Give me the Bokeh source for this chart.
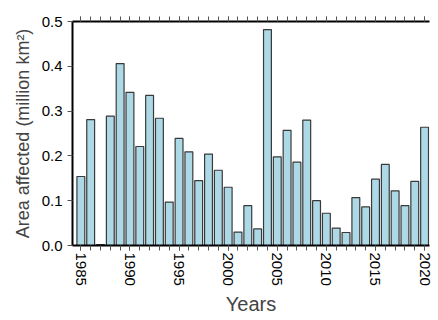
from bokeh.plotting import figure
from bokeh.models import FixedTicker, LinearAxis, Range1d, Label, ColumnDataSource, CustomJSTickFormatter
from bokeh.embed import file_html
from bokeh.resources import INLINE

years = list(range(1985, 2021))
area = [0.154, 0.281, 0.002, 0.289, 0.406, 0.342, 0.221, 0.335, 0.284, 0.097,
        0.239, 0.209, 0.145, 0.204, 0.168, 0.130, 0.030, 0.089, 0.037, 0.482,
        0.198, 0.257, 0.186, 0.280, 0.100, 0.072, 0.039, 0.029, 0.107, 0.086,
        0.148, 0.181, 0.122, 0.089, 0.143, 0.264]
x_ticks = [1985, 1990, 1995, 2000, 2005, 2010, 2015, 2020]
y_ticks = [0.0, 0.1, 0.2, 0.3, 0.4, 0.5]
title_text = "(b)"
x_label = "Years"
y_label = "Area affected (million km\u00b2)"

FONT = "Liberation Sans"

p = figure(width=437, height=318, output_backend="svg", toolbar_location=None,
           x_range=Range1d(1984.15, 2020.5), y_range=Range1d(0, 0.5),
           min_border_left=72, min_border_top=21, min_border_bottom=73, min_border_right=8)
p.outline_line_color = None
p.grid.visible = False
p.background_fill_color = "white"

src = ColumnDataSource(dict(x=years, top=area))
p.vbar(x="x", top="top", width=0.8, bottom=0, source=src,
       fill_color="#ADD8E6", line_color="#3a3a3a", line_width=1.2)

minor = list(range(1984, 2021))

def style_x(ax):
    ax.ticker = FixedTicker(ticks=x_ticks, minor_ticks=minor)
    ax.major_tick_out = 5
    ax.major_tick_in = 0
    ax.minor_tick_out = 5
    ax.minor_tick_in = 0
    ax.axis_line_width = 2
    ax.axis_line_color = "black"
    ax.major_tick_line_color = "#555555"
    ax.minor_tick_line_color = "#555555"
    ax.major_label_text_font = FONT
    ax.major_label_text_font_size = "15px"
    ax.major_label_text_color = "black"
    ax.major_label_standoff = 2

xa = p.xaxis[0]
style_x(xa)
xa.major_label_orientation = "vertical"
xa.axis_label = x_label
xa.axis_label_text_font = FONT
xa.axis_label_text_font_size = "20px"
xa.axis_label_text_font_style = "normal"
xa.axis_label_standoff = 4

top = LinearAxis()
style_x(top)
top.major_label_overrides = {t: "" for t in x_ticks}
p.add_layout(top, "above")

ya = p.yaxis[0]
ya.ticker = FixedTicker(ticks=y_ticks, minor_ticks=[])
ya.major_tick_out = 5
ya.major_tick_in = 0
ya.axis_line_width = 2
ya.axis_line_color = "black"
ya.major_tick_line_color = "#555555"
ya.major_label_text_font = FONT
ya.major_label_text_font_size = "15px"
ya.major_label_text_color = "black"
ya.formatter = CustomJSTickFormatter(code="return tick.toFixed(1);")
ya.axis_label = y_label
ya.axis_label_text_font = FONT
ya.axis_label_text_font_size = "18px"
ya.axis_label_text_font_style = "normal"
ya.axis_label_standoff = 6

p.add_layout(Label(x=1986.35, y=0.528, text=title_text, text_font=FONT,
                   text_font_size="16px", text_font_style="bold",
                   text_align="center", text_baseline="middle"))

open("out.html", "w").write(file_html(p, INLINE))
